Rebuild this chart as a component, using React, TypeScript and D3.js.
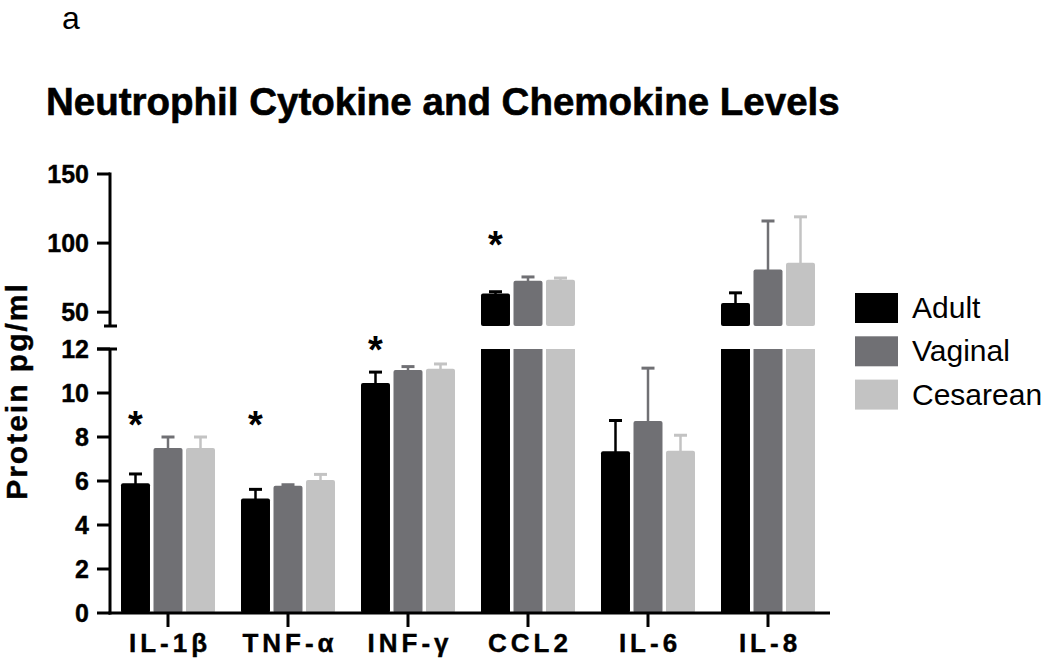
import React from "react";
import * as d3 from "d3";

const categories = ["IL-1β", "TNF-α", "INF-γ", "CCL2", "IL-6", "IL-8"];
const groups = ["Adult", "Vaginal", "Cesarean"];
const adultMeans = [5.9, 5.2, 10.45, 63.5, 7.35, 56.7];
const adultErrors = [0.42, 0.42, 0.5, 1.3, 1.4, 7.3];
const vaginalMeans = [7.5, 5.78, 11.05, 72.7, 8.73, 80.9];
const vaginalErrors = [0.5, 0.05, 0.15, 2.8, 2.4, 35.1];
const cesareanMeans = [7.5, 6.05, 11.1, 73.5, 7.38, 85.7];
const cesareanErrors = [0.5, 0.25, 0.22, 1.2, 0.7, 33.3];
const significanceLevels = [8.9, 8.9, 12.3, 104.6, null, null];
const lowerTicks = [0, 2, 4, 6, 8, 10, 12];
const upperTicks = [50, 100, 150];
const groupColors = ["#000000", "#707074", "#c3c3c3"];

const FONT = "'Liberation Sans', Arial, Helvetica, sans-serif";

export default function App() {
  const x0 = d3.scaleBand<string>().domain(categories).range([108, 828]);
  const x1 = d3
    .scaleBand<string>()
    .domain(groups)
    .range([0, x0.bandwidth()])
    .paddingInner(0.108)
    .paddingOuter(0.4);
  const yLow = d3.scaleLinear().domain([0, 12]).range([613, 349]);
  const yUp = d3.scaleLinear().domain([40, 150]).range([326, 174]);
  const color = d3.scaleOrdinal<string, string>().domain(groups).range(groupColors);
  const yOf = (v: number) => (v <= 12.5 ? yLow(v) : yUp(v));

  const seriesMeans = [adultMeans, vaginalMeans, cesareanMeans];
  const seriesErrors = [adultErrors, vaginalErrors, cesareanErrors];
  const bw = x1.bandwidth();
  const axisX = 110;

  const bars: React.ReactNode[] = [];
  categories.forEach((cat, ci) => {
    groups.forEach((g, gi) => {
      const v = seriesMeans[gi][ci];
      const e = seriesErrors[gi][ci];
      const bx = (x0(cat) as number) + (x1(g) as number);
      const cx = bx + bw / 2;
      const c = color(g);
      const top = yOf(v);
      const errTop = yOf(v + e);
      bars.push(
        <g key={`${cat}-${g}`}>
          <line x1={cx} x2={cx} y1={top + 2} y2={errTop} stroke={c} strokeWidth={2.5} />
          <line x1={cx - 6.5} x2={cx + 6.5} y1={errTop} y2={errTop} stroke={c} strokeWidth={3} />
          {v <= 12 ? (
            <rect x={bx} y={top} width={bw} height={yLow(0) - top} fill={c} rx={2} />
          ) : (
            <>
              <rect x={bx} y={yLow(12)} width={bw} height={yLow(0) - yLow(12)} fill={c} />
              <rect x={bx} y={top} width={bw} height={yUp(40) - top} fill={c} rx={2} />
            </>
          )}
        </g>
      );
    });
  });

  return (
    <svg
      width={1050}
      height={665}
      style={{ position: "absolute", left: 0, top: 0, background: "#fff" }}
      fontFamily={FONT}
    >
      <rect x={0} y={0} width={1050} height={665} fill="#fff" />
      <text x={62} y={29} fontSize={32} fill="#000">a</text>
      <text
        x={46}
        y={115}
        fontSize={38.5}
        fontWeight="bold"
        fill="#000"
        stroke="#000"
        strokeWidth={0.6}
      >
        Neutrophil Cytokine and Chemokine Levels
      </text>

      {bars}

      {/* significance stars */}
      {significanceLevels.map((s, ci) =>
        s == null ? null : (
          <text
            key={`star-${ci}`}
            x={(x0(categories[ci]) as number) + (x1("Adult") as number) + bw / 2}
            y={(ci === 3 ? yUp(s) : yLow(s)) + 21}
            fontSize={38}
            fontWeight="bold"
            textAnchor="middle"
            fill="#000"
          >
            *
          </text>
        )
      )}

      {/* y axis lower segment */}
      <line x1={axisX} x2={axisX} y1={yLow(12)} y2={yLow(0) + 1.5} stroke="#000" strokeWidth={3} />
      <line x1={97} x2={117} y1={yLow(12)} y2={yLow(12)} stroke="#000" strokeWidth={3} />
      {lowerTicks.map((t) => (
        <g key={`lt-${t}`}>
          <line x1={97} x2={axisX} y1={yLow(t)} y2={yLow(t)} stroke="#000" strokeWidth={3} />
          <text
            x={89}
            y={yLow(t) + 9}
            fontSize={25}
            fontWeight="bold"
            textAnchor="end"
            fill="#000"
            stroke="#000"
            strokeWidth={0.4}
          >
            {t}
          </text>
        </g>
      ))}
      {/* y axis upper segment */}
      <line x1={axisX} x2={axisX} y1={yUp(150) - 1.5} y2={yUp(40)} stroke="#000" strokeWidth={3} />
      <line x1={104} x2={117} y1={yUp(40)} y2={yUp(40)} stroke="#000" strokeWidth={3} />
      {upperTicks.map((t) => (
        <g key={`ut-${t}`}>
          <line x1={97} x2={axisX} y1={yUp(t)} y2={yUp(t)} stroke="#000" strokeWidth={3} />
          <text
            x={89}
            y={yUp(t) + 9}
            fontSize={25}
            fontWeight="bold"
            textAnchor="end"
            fill="#000"
            stroke="#000"
            strokeWidth={0.4}
          >
            {t}
          </text>
        </g>
      ))}
      <text
        transform={`translate(27,391) rotate(-90)`}
        fontSize={30}
        fontWeight="bold"
        letterSpacing={2}
        textAnchor="middle"
        fill="#000"
        stroke="#000"
        strokeWidth={0.4}
      >
        Protein pg/ml
      </text>

      {/* x axis */}
      <line x1={axisX - 1.5} x2={830} y1={yLow(0)} y2={yLow(0)} stroke="#000" strokeWidth={3} />
      {categories.map((cat) => {
        const cx = (x0(cat) as number) + x0.bandwidth() / 2;
        return (
          <g key={`xt-${cat}`}>
            <line x1={cx} x2={cx} y1={yLow(0)} y2={yLow(0) + 14} stroke="#000" strokeWidth={3} />
            <text
              x={cx + 2}
              y={652}
              fontSize={26}
              fontWeight="bold"
              letterSpacing={4}
              textAnchor="middle"
              fill="#000"
              stroke="#000"
              strokeWidth={0.4}
            >
              {cat}
            </text>
          </g>
        );
      })}

      {/* legend */}
      {groups.map((g, i) => (
        <g key={`lg-${g}`} transform={`translate(855,${293 + i * 43.3})`}>
          <rect x={0} y={0} width={43} height={30} fill={color(g)} />
          <text x={57} y={25} fontSize={30} fill="#000">
            {g}
          </text>
        </g>
      ))}
    </svg>
  );
}
